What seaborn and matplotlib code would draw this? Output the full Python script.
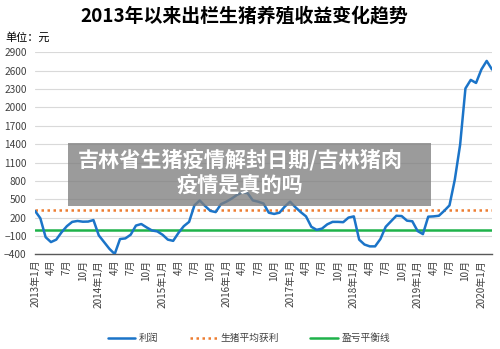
import pandas as pd
import matplotlib
matplotlib.use("Agg")
import matplotlib.pyplot as plt
import seaborn as sns
from matplotlib.lines import Line2D
from matplotlib.patches import Rectangle

# Monthly profit per slaughtered hog, 2013-01 .. 2020-03 (yuan)
months = pd.period_range("2013-01", "2020-03", freq="M")
profit = [
    310, 190, -120, -200, -160, -40, 60, 130, 145, 133, 135, 160,      # 2013
    -90, -200, -310, -395, -150, -140, -80, 70, 95, 40, -10, -25,      # 2014
    -80, -160, -180, -50, 60, 130, 400, 480, 390, 310, 290, 420,       # 2015
    460, 510, 570, 610, 600, 480, 460, 430, 280, 260, 280, 380,        # 2016
    460, 370, 290, 220, 50, 0, 20, 90, 130, 130, 125, 200,             # 2017
    220, -160, -240, -270, -270, -150, 50, 140, 230, 225, 150, 140,    # 2018
    -20, -70, 215, 220, 230, 310, 400, 820, 1390, 2310, 2450, 2400,    # 2019
    2620, 2760, 2620,                                                  # 2020
]
avg_profit = 320
breakeven = 0

y_ticks = list(range(-400, 3000, 300))
x_labels = [f"{p.year}年{p.month}月" if p.month == 1 else f"{p.month}月" for p in months]

blue = "#1b74c8"
orange = "#ed7d31"
green = "#1fb24a"
text_color = "#404040"

sns.set_theme(style="white")
plt.rcParams["font.family"] = ["Noto Sans CJK SC", "DejaVu Sans"]

fig = plt.figure(figsize=(5, 3.49), dpi=100)
ax = fig.add_axes([0.07, 0.2713, 0.914, 0.5787])

df = pd.DataFrame({"idx": range(len(profit)), "profit": profit})
ax.axhline(avg_profit, color=orange, linewidth=1.8, linestyle=(0, (1, 1.4)), zorder=2)
ax.axhline(breakeven, color=green, linewidth=1.8, zorder=2)
sns.lineplot(data=df, x="idx", y="profit", ax=ax, color=blue, linewidth=1.8, zorder=3)

ax.set_xlim(0, len(profit) - 1)
ax.set_ylim(-400, 2900)
ax.set_yticks(y_ticks)
ax.set_yticklabels([str(v).replace("-", "\u2212") for v in y_ticks])
ax.grid(axis="y", color="#d9d9d9", linewidth=0.8)
ax.set_axisbelow(True)

ax.set_xticks(range(len(profit)))
ax.set_xticklabels([lab if i % 3 == 0 else "" for i, lab in enumerate(x_labels)],
                   rotation=90, fontsize=7.2, color=text_color)
ax.tick_params(axis="x", direction="in", length=3, width=0.8, color="#595959", pad=4)
ax.tick_params(axis="y", length=0, labelsize=7.3, labelcolor=text_color, pad=6)
ax.set_xlabel("")
ax.set_ylabel("")

for side in ("top", "right", "left"):
    ax.spines[side].set_visible(False)
ax.spines["bottom"].set_color("#595959")
ax.spines["bottom"].set_linewidth(1.0)

fig.text(0.488, 1 - 16 / 349, "2013年以来出栏生猪养殖收益变化趋势",
         ha="center", va="center", fontsize=13.6, fontweight="bold", color="black")
fig.text(5 / 500, 1 - 37 / 349, "单位：元", ha="left", va="center", fontsize=8, color="black")

handles = [
    Line2D([], [], color=blue, linewidth=1.8),
    Line2D([], [], color=orange, linewidth=1.8, linestyle=(0, (1, 1.4))),
    Line2D([], [], color=green, linewidth=1.8),
]
fig.legend(handles, ["利润", "生猪平均获利", "盈亏平衡线"], loc="center",
           bbox_to_anchor=(0.498, 1 - 338 / 349), ncol=3, frameon=False,
           fontsize=7, handlelength=2.8, columnspacing=3.2, handletextpad=0.4,
           labelcolor=text_color)

# Caption banner over the chart
fig.add_artist(Rectangle((68.3 / 500, 1 - 205.7 / 349), 362.4 / 500, 62.4 / 349,
                         transform=fig.transFigure, facecolor="#7f7f7f", alpha=0.78,
                         edgecolor="none", zorder=10))
fig.text(240 / 500, 1 - 160 / 349, "吉林省生猪疫情解封日期/吉林猪肉", ha="center", va="center",
         fontsize=15.2, fontweight="bold", color="white", zorder=11)
fig.text(240 / 500, 1 - 185 / 349, "疫情是真的吗", ha="center", va="center",
         fontsize=15.2, fontweight="bold", color="white", zorder=11)

fig.savefig("out.png", dpi=100)
